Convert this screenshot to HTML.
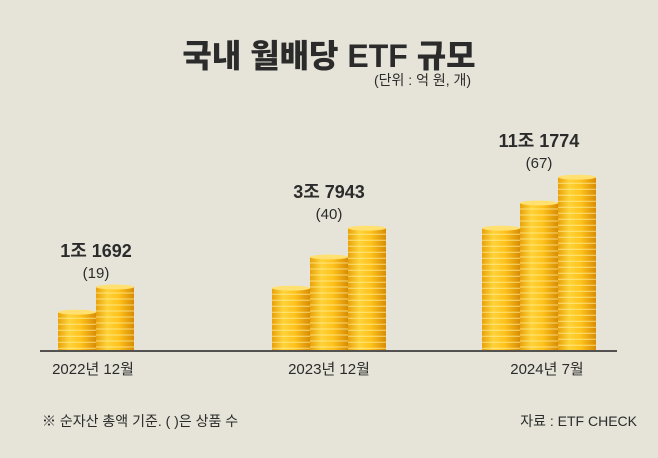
<!DOCTYPE html>
<html><head><meta charset="utf-8"><style>
html,body{margin:0;padding:0;}
body{width:658px;height:458px;background:#e6e4d8;overflow:hidden;position:relative;font-family:"Liberation Sans","Noto Sans CJK KR",sans-serif;color:#2b2b2b;}
.t{position:absolute;white-space:nowrap;}
</style></head><body>
<div class="t" style="left:0;width:658px;top:31px;text-align:center;font-size:32px;font-weight:900;letter-spacing:0px;">국내 월배당 ETF 규모</div>
<div class="t" style="left:374px;top:70px;font-size:14px;">(단위 : 억 원, 개)</div>
<svg id="chart" width="658" height="458" style="position:absolute;left:0;top:0">
<defs>
<linearGradient id="gold" x1="0" x2="1" y1="0" y2="0">
<stop offset="0" stop-color="#e8a10a"/><stop offset="0.3" stop-color="#ffd33a"/><stop offset="0.6" stop-color="#ffc21a"/><stop offset="1" stop-color="#d88c05"/>
</linearGradient>
</defs>
</svg>
<div class="t" style="left:42px;top:411px;font-size:14px;">※ 순자산 총액 기준. ( )은 상품 수</div>
<div class="t" style="right:21px;top:411px;font-size:14px;">자료 : ETF CHECK</div>
<script>
const categories = ["2022년 12월","2023년 12월","2024년 7월"];
const valueLabels = ["1조 1692","3조 7943","11조 1774"];
const counts = [19,40,67];
const stackCoins = [[6.3,10.5],[10.3,15.5,20.3],[20.3,24.5,28.8]];
const NS="http://www.w3.org/2000/svg";
const svg=document.getElementById('chart');
const baseY=350, coinH=6, stackW=38;
const groupStart=[58,272,482];
function mk(tag,attrs){const e=document.createElementNS(NS,tag);for(const k in attrs)e.setAttribute(k,attrs[k]);svg.appendChild(e);return e;}
const axis=mk('line',{x1:40,x2:617,y1:baseY+1,y2:baseY+1,stroke:'#222','stroke-width':1.5});


categories.forEach((c,g)=>{
  let topMin=baseY;
  stackCoins[g].forEach((n,i)=>{
    const x=groupStart[g]+i*stackW, h=n*coinH, y=baseY-h;
    topMin=Math.min(topMin,y);
    const r=mk('rect',{x:x,y:y,width:stackW,height:h,fill:'url(#gold)'});
    
    
    for(let k=1;k<n;k++){mk('line',{x1:x,x2:x+stackW,y1:y+k*coinH,y2:y+k*coinH,stroke:'#fff2a0','stroke-width':1,opacity:0.7});}
    mk('ellipse',{cx:x+stackW/2,cy:y,rx:stackW/2,ry:2.5,fill:'#ffe070'});
  });
  const nS=stackCoins[g].length;
  const cx=groupStart[g]+nS*stackW/2;
  const v=mk('text',{x:cx,y:topMin-30,'text-anchor':'middle','font-size':18,'font-weight':'bold',fill:'#2b2b2b'});
  v.textContent=valueLabels[g];
  
  
  const ct=mk('text',{x:cx,y:topMin-9,'text-anchor':'middle','font-size':15,fill:'#2b2b2b'});
  ct.textContent='('+counts[g]+')';
  
  
  const cl=mk('text',{x:[93,329,547][g],y:374,'text-anchor':'middle','font-size':15,fill:'#2b2b2b'});
  cl.textContent=c;
  
  
});
</script>
</body></html>
